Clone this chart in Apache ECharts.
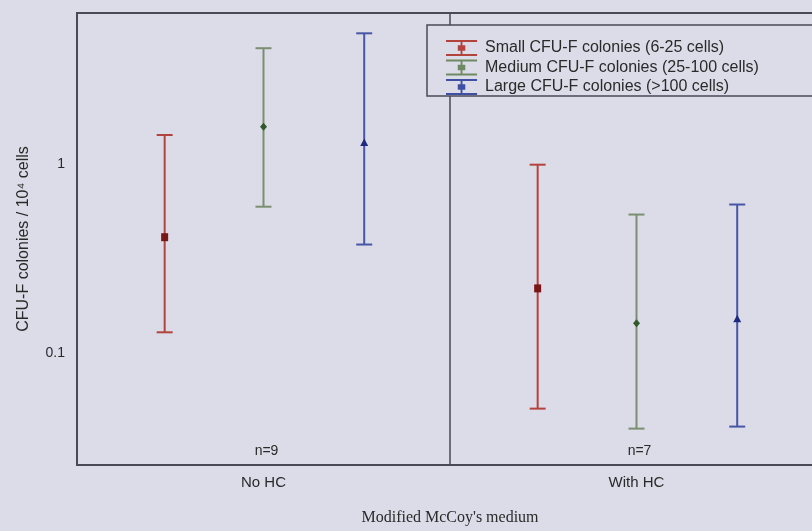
<!DOCTYPE html>
<html>
<head>
<meta charset="UTF-8">
<title>CFU-F colonies</title>
<style type="text/css">
	html, body { margin: 0; padding: 0; background: #dcdce8; overflow: hidden; }
	/* the chart runs a little past the right edge of the window, like the cropped original */
	#chart { width: 830px; height: 531px; }
</style>
<script src="https://cdn.jsdelivr.net/npm/echarts@6/dist/echarts.min.js"></script>
</head>
<body>
<div id="chart"></div>
<script>
	var categories = ['No HC', 'With HC'];
	var counts = [9, 7];

	// mean, lower and upper end of each error bar
	var smallMean = [0.41, 0.22];
	var smallLow = [0.129, 0.051];
	var smallHigh = [1.42, 0.99];

	var mediumMean = [1.57, 0.144];
	var mediumLow = [0.594, 0.040];
	var mediumHigh = [4.08, 0.54];

	var largeMean = [1.29, 0.151];
	var largeLow = [0.375, 0.041];
	var largeHigh = [4.89, 0.61];

	var yMin = 0.0257, yMax = 6.26;
	var frame = '#4a4a55';
	var bg = '#dcdce8';

	function rows(low, mean, high) {
		return categories.map(function (c, i) { return [i, low[i], mean[i], high[i]]; });
	}

	// one error bar per category, shifted sideways inside the band
	function errorBar(shift, lineColor, markColor, marker) {
		return function (params, api) {
			var cat = api.value(0);
			var lo = api.coord([cat, api.value(1)]);
			var mid = api.coord([cat, api.value(2)]);
			var hi = api.coord([cat, api.value(3)]);
			var band = api.size([1, 0])[0];
			var x = lo[0] + band * shift;
			var cap = 8;
			var line = { stroke: lineColor, lineWidth: 2 };
			var mark;
			if (marker === 'square') {
				mark = { type: 'rect', shape: { x: x - 3.5, y: mid[1] - 4, width: 7, height: 8 }, style: { fill: markColor } };
			} else if (marker === 'diamond') {
				mark = { type: 'polygon', shape: { points: [[x, mid[1] - 4], [x + 3.5, mid[1]], [x, mid[1] + 4], [x - 3.5, mid[1]]] }, style: { fill: markColor } };
			} else {
				mark = { type: 'polygon', shape: { points: [[x, mid[1] - 4.5], [x + 4, mid[1] + 3], [x - 4, mid[1] + 3]] }, style: { fill: markColor } };
			}
			return {
				type: 'group',
				children: [
					{ type: 'line', shape: { x1: x, y1: hi[1], x2: x, y2: lo[1] }, style: line },
					{ type: 'line', shape: { x1: x - cap, y1: hi[1], x2: x + cap, y2: hi[1] }, style: line },
					{ type: 'line', shape: { x1: x - cap, y1: lo[1], x2: x + cap, y2: lo[1] }, style: line },
					mark
				]
			};
		};
	}

	var iconPath = 'path://M0,0H33V2H0Z M15.5,0H17.5V17H15.5Z M0,15H33V17H0Z M12.5,5.5H20.5V11.5H12.5Z';

	var chart = echarts.init(document.getElementById('chart'));

	var option = {
		backgroundColor: bg,
		animation: false,
		textStyle: { fontFamily: 'Liberation Sans, Arial, sans-serif' },
		grid: {
			left: 77, top: 13, width: 746, height: 453,
			show: true, borderColor: frame, borderWidth: 2, backgroundColor: bg
		},
		legend: {
			orient: 'vertical',
			left: 427, top: 25,
			padding: [15, 120, 1, 19],
			itemWidth: 33, itemHeight: 16, itemGap: 3.5,
			borderColor: frame, borderWidth: 1.5, backgroundColor: bg,
			textStyle: { fontSize: 16, color: '#2a2a2a', padding: [0, 0, 0, 2] },
			data: [
				{ name: 'Small CFU-F colonies (6-25 cells)', icon: iconPath },
				{ name: 'Medium CFU-F colonies (25-100 cells)', icon: iconPath },
				{ name: 'Large CFU-F colonies (>100 cells)', icon: iconPath }
			]
		},
		xAxis: [{
			type: 'category',
			data: categories,
			position: 'bottom',
			name: "Modified McCoy's medium",
			nameLocation: 'middle',
			nameGap: 45,
			nameTextStyle: { fontFamily: 'Liberation Serif, Times New Roman, serif', fontSize: 16, color: '#2a2a2a' },
			axisLine: { lineStyle: { color: frame, width: 2 } },
			axisTick: { inside: true, length: 3, alignWithLabel: true, lineStyle: { color: frame } },
			axisLabel: { fontSize: 15, color: '#2a2a2a', margin: 10 },
			splitLine: { show: true, lineStyle: { color: frame, width: 1.5 } }
		}, {
			type: 'category',
			data: categories,
			position: 'top',
			axisLine: { lineStyle: { color: frame, width: 2 } },
			axisTick: { inside: true, length: 3, alignWithLabel: true, lineStyle: { color: frame } },
			axisLabel: { show: false }
		}],
		yAxis: {
			type: 'log',
			logBase: 10,
			min: yMin,
			max: yMax,
			name: 'CFU-F colonies / 10\u2074 cells',
			nameLocation: 'middle',
			nameGap: 45,
			nameTextStyle: { fontSize: 16, color: '#2a2a2a' },
			axisLine: { show: true, lineStyle: { color: frame, width: 2 } },
			axisTick: { inside: true, length: 5, lineStyle: { color: frame } },
			axisLabel: { fontSize: 14, color: '#2a2a2a', margin: 12, showMinLabel: false, showMaxLabel: false },
			splitLine: { show: false }
		},
		series: [{
			name: 'Small CFU-F colonies (6-25 cells)',
			type: 'custom',
			itemStyle: { color: '#b3433d' },
			encode: { x: 0, y: [1, 2, 3] },
			renderItem: errorBar(-0.265, '#b3433d', '#7a1616', 'square'),
			data: rows(smallLow, smallMean, smallHigh)
		}, {
			name: 'Medium CFU-F colonies (25-100 cells)',
			type: 'custom',
			itemStyle: { color: '#6f8a62' },
			encode: { x: 0, y: [1, 2, 3] },
			renderItem: errorBar(0, '#7b8f70', '#2f5a2a', 'diamond'),
			data: rows(mediumLow, mediumMean, mediumHigh)
		}, {
			name: 'Large CFU-F colonies (>100 cells)',
			type: 'custom',
			itemStyle: { color: '#3f4fa3' },
			encode: { x: 0, y: [1, 2, 3] },
			renderItem: errorBar(0.27, '#4656a6', '#1f2a80', 'triangle'),
			data: rows(largeLow, largeMean, largeHigh)
		}, {
			name: 'counts',
			type: 'custom',
			silent: true,
			encode: { x: 0, y: 1 },
			renderItem: function (params, api) {
				var p = api.coord([api.value(0), yMin]);
				return {
					type: 'text',
					style: {
						x: p[0] + 3, y: p[1] - 14, text: 'n=' + counts[params.dataIndex],
						align: 'center', verticalAlign: 'middle',
						fontSize: 14, fontFamily: 'Liberation Sans, Arial, sans-serif', fill: '#2a2a2a'
					}
				};
			},
			data: counts.map(function (n, i) { return [i, 1]; })
		}]
	};

	chart.setOption(option);
</script>
</body>
</html>
